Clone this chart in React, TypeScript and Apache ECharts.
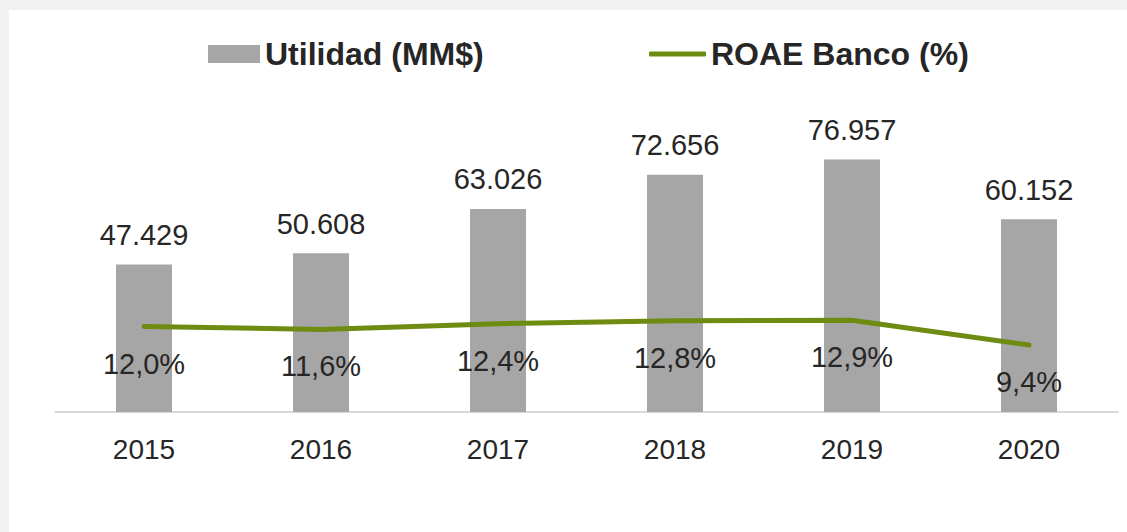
import React, { useEffect, useRef } from "react";
import * as echarts from "echarts";

const categories = ["2015", "2016", "2017", "2018", "2019", "2020"];
const utilidad = [47429, 50608, 63026, 72656, 76957, 60152];
const roae = [12.0, 11.6, 12.4, 12.8, 12.9, 9.4];

const FONT = "'Liberation Sans', Arial, Helvetica, sans-serif";
const TEXT = "#262626";
const BAR = "#a6a6a6";
const GREEN = "#6e8b12";

function fmtThousands(v: number): string {
  return String(Math.round(v)).replace(/\B(?=(\d{3})+(?!\d))/g, ".");
}
function fmtPct(v: number): string {
  return v.toFixed(1).replace(".", ",") + "%";
}

export default function App() {
  const ref = useRef<HTMLDivElement>(null);
  useEffect(() => {
    if (!ref.current) return;
    const chart = echarts.init(ref.current, null, { renderer: "svg" });
    chart.setOption({
      animation: false,
      backgroundColor: "#ffffff",
      textStyle: { fontFamily: FONT },
      legend: [
        {
          data: [{ name: "Utilidad (MM$)", icon: "rect" }],
          left: 194,
          top: 23,
          itemWidth: 52,
          itemHeight: 18,
          textStyle: { fontFamily: FONT, fontSize: 32, fontWeight: "bold", color: TEXT },
        },
        {
          data: [{ name: "ROAE Banco (%)", icon: "roundRect" }],
          left: 635,
          top: 23,
          itemWidth: 57,
          itemHeight: 5,
          textStyle: { fontFamily: FONT, fontSize: 32, fontWeight: "bold", color: TEXT },
        },
      ],
      grid: { left: 46.5, right: 9.5, top: 46, bottom: 120 },
      xAxis: {
        type: "category",
        data: categories,
        axisTick: { show: false },
        axisLine: { lineStyle: { color: "#d9d9d9", width: 2 } },
        axisLabel: { fontFamily: FONT, fontSize: 28, color: TEXT, margin: 23 },
      },
      yAxis: [
        { type: "value", min: 6000, max: 106000, show: false, splitLine: { show: false } },
        { type: "value", min: 0, max: 50, show: false, splitLine: { show: false } },
      ],
      series: [
        {
          name: "Utilidad (MM$)",
          type: "bar",
          data: utilidad,
          barWidth: 56,
          itemStyle: { color: BAR },
          label: {
            show: true,
            position: "top",
            distance: 15,
            fontFamily: FONT,
            fontSize: 29,
            color: TEXT,
            formatter: (p: any) => fmtThousands(p.value),
          },
        },
        {
          name: "ROAE Banco (%)",
          type: "line",
          yAxisIndex: 1,
          data: roae,
          symbol: "circle",
          symbolSize: 1,
          showSymbol: true,
          itemStyle: { color: GREEN },
          lineStyle: { color: GREEN, width: 5, cap: "round", join: "round" },
          label: {
            show: true,
            position: "bottom",
            distance: 22,
            fontFamily: FONT,
            fontSize: 29,
            color: TEXT,
            formatter: (p: any) => fmtPct(p.value),
          },
        },
      ],
    });
    return () => chart.dispose();
  }, []);
  return (
    <div
      style={{
        position: "absolute",
        left: 0,
        top: 0,
        width: 1127,
        height: 532,
        background: "#f2f2f2",
      }}
    >
      <div
        ref={ref}
        style={{ position: "absolute", left: 9, top: 10, width: 1118, height: 522 }}
      />
    </div>
  );
}
